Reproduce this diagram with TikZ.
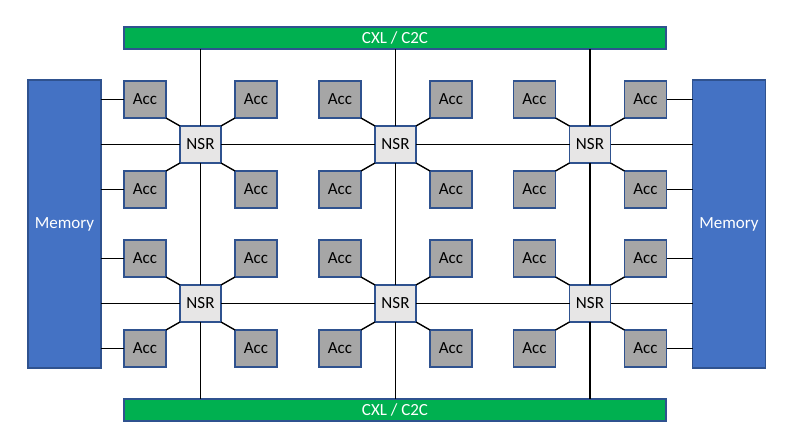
\documentclass[tikz,border=0pt]{standalone}
\usepackage{fontspec}
\setmainfont{Carlito}
\usetikzlibrary{positioning}

\definecolor{busgreen}{RGB}{0,176,80}
\definecolor{memblue}{RGB}{68,114,196}
\definecolor{edgeblue}{RGB}{47,82,143}
\definecolor{accgray}{RGB}{166,166,166}
\definecolor{nsrgray}{RGB}{231,230,230}

\begin{document}
\begin{tikzpicture}[x=1pt,y=-1pt,node distance=8pt and 14pt,
    every node/.style={font=\fontsize{17}{19}\selectfont},
    box/.style={draw=edgeblue,line width=1.3pt,inner sep=0pt,outer sep=0pt},
    bus/.style={box,fill=busgreen,text=white,minimum width=542pt,minimum height=22pt},
    mem/.style={box,fill=memblue,text=white,minimum width=73pt,minimum height=288pt},
    nsr/.style={box,fill=nsrgray,minimum width=41pt,minimum height=37pt},
    acc/.style={box,fill=accgray,minimum width=42pt,minimum height=37pt},
    wire/.style={line width=1.4pt}]
\useasboundingbox (0,0) rectangle (796,446);
% buses and memories
\node[bus] (cxltop) at (395,38) {CXL / C2C};
\node[bus] (cxlbot) at (395,410) {CXL / C2C};
\node[mem] (meml) at (64.5,224) {Memory};
\node[mem] (memr) at (729,224) {Memory};
% routers with their four accelerators
\foreach \r/\y in {1/144.5,2/303.5}
  \foreach \c/\x in {1/200.5,2/395.5,3/590}{
    \node[nsr] (nsr\r\c) at (\x,\y) {NSR};
    \node[acc,above left=of nsr\r\c] (acc\r\c nw) {Acc};
    \node[acc,above right=of nsr\r\c] (acc\r\c ne) {Acc};
    \node[acc,below left=of nsr\r\c] (acc\r\c sw) {Acc};
    \node[acc,below right=of nsr\r\c] (acc\r\c se) {Acc};
    \draw[wire] (nsr\r\c.north west) -- (acc\r\c nw.south east);
    \draw[wire] (nsr\r\c.north east) -- (acc\r\c ne.south west);
    \draw[wire] (nsr\r\c.south west) -- (acc\r\c sw.north east);
    \draw[wire] (nsr\r\c.south east) -- (acc\r\c se.north west);
  }
% mesh
\foreach \r in {1,2}{
  \draw[wire] (nsr\r1 -| meml.east) -- (nsr\r1.west);
  \draw[wire] (nsr\r1.east) -- (nsr\r2.west);
  \draw[wire] (nsr\r2.east) -- (nsr\r3.west);
  \draw[wire] (nsr\r3.east) -- (nsr\r3 -| memr.west);
  \draw[wire] (acc\r1nw -| meml.east) -- (acc\r1nw.west);
  \draw[wire] (acc\r1sw -| meml.east) -- (acc\r1sw.west);
  \draw[wire] (acc\r3ne.east) -- (acc\r3ne -| memr.west);
  \draw[wire] (acc\r3se.east) -- (acc\r3se -| memr.west);
}
\foreach \c in {1,2,3}{
  \draw[wire] (nsr1\c |- cxltop.south) -- (nsr1\c.north);
  \draw[wire] (nsr1\c.south) -- (nsr2\c.north);
  \draw[wire] (nsr2\c.south) -- (nsr2\c |- cxlbot.north);
}
\end{tikzpicture}
\end{document}
